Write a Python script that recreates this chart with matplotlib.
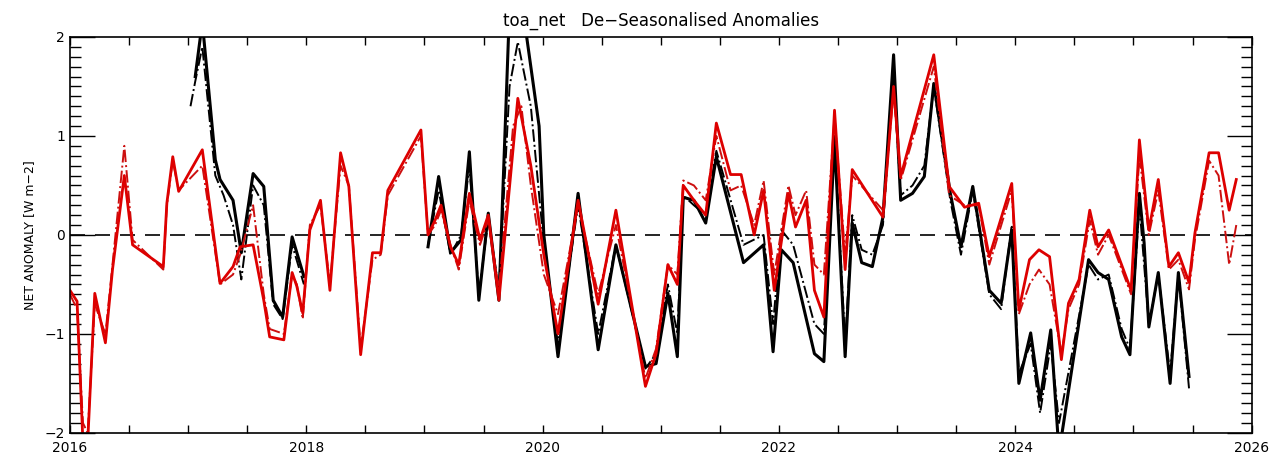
import numpy as np
import matplotlib
matplotlib.use('Agg')
import matplotlib.pyplot as plt

# red solid series (decimal year, anomaly W m-2)
red_t = [2016.00, 2016.06, 2016.11, 2016.15, 2016.21, 2016.30, 2016.36, 2016.46, 2016.53, 2016.79,
         2016.82, 2016.87, 2016.92, 2017.12, 2017.27, 2017.38, 2017.44, 2017.55, 2017.64, 2017.69,
         2017.81, 2017.88, 2017.92, 2017.97, 2018.03, 2018.12, 2018.20, 2018.29, 2018.36, 2018.46,
         2018.56, 2018.63, 2018.69, 2018.97, 2019.03, 2019.09, 2019.14, 2019.22, 2019.29, 2019.38,
         2019.47, 2019.54, 2019.63, 2019.79, 2019.90, 2020.01, 2020.13, 2020.30, 2020.47, 2020.62,
         2020.87, 2020.96, 2021.06, 2021.14, 2021.19, 2021.28, 2021.38, 2021.47, 2021.59, 2021.68,
         2021.79, 2021.87, 2021.96, 2022.08, 2022.14, 2022.23, 2022.30, 2022.38, 2022.47, 2022.56,
         2022.62, 2022.88, 2022.97, 2023.03, 2023.31, 2023.44, 2023.57, 2023.69, 2023.78, 2023.97,
         2024.03, 2024.12, 2024.20, 2024.29, 2024.39, 2024.45, 2024.54, 2024.63, 2024.70, 2024.79,
         2024.98, 2025.05, 2025.13, 2025.21, 2025.30, 2025.38, 2025.47, 2025.52, 2025.64, 2025.72,
         2025.81, 2025.87]
red_v = [-0.56, -0.67, -2.1, -2.1, -0.59, -1.09, -0.35, 0.6, -0.1, -0.32,
         0.32, 0.79, 0.44, 0.86, -0.49, -0.32, -0.12, -0.10, -0.66, -1.03,
         -1.06, -0.38, -0.52, -0.79, 0.05, 0.35, -0.56, 0.83, 0.49, -1.21,
         -0.18, -0.18, 0.45, 1.06, 0.0, 0.15, 0.3, -0.12, -0.3, 0.42,
         -0.05, 0.2, -0.66, 1.38, 0.7, -0.2, -1.0, 0.35, -0.7, 0.25,
         -1.53, -1.2, -0.3, -0.5, 0.5, 0.35, 0.2, 1.13, 0.61, 0.61,
         0.0, 0.45, -0.56, 0.42, 0.08, 0.35, -0.56, -0.83, 1.26, -0.35,
         0.66, 0.18, 1.5, 0.59, 1.82, 0.49, 0.28, 0.32, -0.22, 0.52,
         -0.76, -0.25, -0.15, -0.22, -1.26, -0.69, -0.45, 0.25, -0.12, 0.05,
         -0.56, 0.96, 0.05, 0.56, -0.32, -0.18, -0.48, 0.02, 0.83, 0.83,
         0.25, 0.56]

# red dash-dot series
redd_t = [2016.00, 2016.06, 2016.11, 2016.15, 2016.21, 2016.30, 2016.36, 2016.46, 2016.53, 2016.79,
          2016.82, 2016.87, 2016.92, 2017.12, 2017.27, 2017.38, 2017.44, 2017.55, 2017.64, 2017.69,
          2017.81, 2017.88, 2017.92, 2017.97, 2018.03, 2018.12, 2018.20, 2018.29, 2018.36, 2018.46,
          2018.56, 2018.63, 2018.69, 2018.97, 2019.03, 2019.09, 2019.14, 2019.22, 2019.29, 2019.38,
          2019.47, 2019.54, 2019.63, 2019.75, 2019.82, 2019.90, 2020.01, 2020.13, 2020.30, 2020.47,
          2020.62, 2020.87, 2020.96, 2021.06, 2021.14, 2021.19, 2021.28, 2021.38, 2021.47, 2021.59,
          2021.68, 2021.79, 2021.87, 2021.96, 2022.08, 2022.14, 2022.23, 2022.30, 2022.38, 2022.47,
          2022.56, 2022.62, 2022.88, 2022.97, 2023.03, 2023.31, 2023.44, 2023.57, 2023.69, 2023.78,
          2023.97, 2024.03, 2024.12, 2024.20, 2024.29, 2024.39, 2024.45, 2024.54, 2024.63, 2024.70,
          2024.79, 2024.98, 2025.05, 2025.13, 2025.21, 2025.30, 2025.38, 2025.47, 2025.52, 2025.64,
          2025.72, 2025.81, 2025.87]
redd_v = [-0.6, -0.75, -1.9, -2.0, -0.7, -1.0, -0.3, 0.9, -0.05, -0.35,
          0.3, 0.75, 0.45, 0.7, -0.5, -0.4, -0.2, 0.3, -0.6, -0.95,
          -1.0, -0.4, -0.5, -0.85, 0.1, 0.3, -0.5, 0.7, 0.5, -1.15,
          -0.25, -0.2, 0.4, 1.0, 0.0, 0.1, 0.25, -0.1, -0.35, 0.35,
          -0.1, 0.15, -0.55, 1.1, 1.3, 0.5, -0.4, -0.8, 0.3, -0.6,
          0.1, -1.45, -1.15, -0.3, -0.4, 0.55, 0.5, 0.35, 1.0, 0.45,
          0.5, 0.1, 0.55, -0.4, 0.5, 0.2, 0.45, -0.3, -0.4, 1.2,
          -0.2, 0.6, 0.25, 1.45, 0.55, 1.7, 0.4, 0.3, 0.3, -0.3,
          0.45, -0.8, -0.5, -0.35, -0.5, -1.2, -0.75, -0.5, 0.15, -0.2,
          0.0, -0.6, 0.8, 0.0, 0.45, -0.35, -0.25, -0.55, -0.05, 0.75,
          0.6, -0.3, 0.1]

# black solid series (gap in 2018)
blk_t = [2017.06, 2017.12, 2017.23, 2017.27, 2017.38, 2017.45, 2017.55, 2017.64, 2017.72, 2017.80,
         2017.88, 2017.98, 2018.5,
         2019.03, 2019.12, 2019.22, 2019.31, 2019.38, 2019.46, 2019.54, 2019.63, 2019.72, 2019.83,
         2019.97, 2020.01, 2020.13, 2020.30, 2020.47, 2020.62, 2020.87, 2020.96, 2021.06, 2021.14,
         2021.19, 2021.28, 2021.38, 2021.47, 2021.70, 2021.87, 2021.95, 2022.02, 2022.12, 2022.30,
         2022.38, 2022.47, 2022.56, 2022.62, 2022.70, 2022.79, 2022.88, 2022.97, 2023.03, 2023.13,
         2023.23, 2023.31, 2023.45, 2023.54, 2023.64, 2023.78, 2023.88, 2023.97, 2024.03, 2024.13,
         2024.21, 2024.30, 2024.37, 2024.62, 2024.70, 2024.79, 2024.90, 2024.97, 2025.05, 2025.09,
         2025.13, 2025.21, 2025.31, 2025.38, 2025.47]
blk_v = [1.6, 2.15, 0.76, 0.56, 0.35, -0.18, 0.62, 0.49, -0.66, -0.83,
         -0.02, -0.42, np.nan,
         -0.12, 0.59, -0.18, -0.05, 0.84, -0.66, 0.22, -0.66, 2.3, 2.3,
         1.1, 0.0, -1.23, 0.42, -1.16, -0.1, -1.33, -1.3, -0.59, -1.23,
         0.38, 0.35, 0.12, 0.79, -0.28, -0.1, -1.18, -0.15, -0.28, -1.2,
         -1.28, 0.96, -1.23, 0.12, -0.28, -0.32, 0.18, 1.82, 0.35, 0.42,
         0.59, 1.53, 0.42, -0.12, 0.49, -0.56, -0.69, 0.05, -1.5, -0.99,
         -1.67, -0.96, -2.2, -0.25, -0.38, -0.45, -1.03, -1.21, 0.42, -0.08,
         -0.93, -0.38, -1.5, -0.38, -1.43]

# black dash-dot series
blkd_t = [2017.02, 2017.06, 2017.12, 2017.23, 2017.30, 2017.38, 2017.45, 2017.55, 2017.64, 2017.72,
          2017.80, 2017.88, 2017.98, 2018.5,
          2019.03, 2019.12, 2019.22, 2019.31, 2019.38, 2019.46, 2019.54, 2019.63, 2019.72, 2019.79,
          2019.90, 2020.01, 2020.13, 2020.30, 2020.47, 2020.62, 2020.87, 2020.96, 2021.06, 2021.14,
          2021.19, 2021.28, 2021.38, 2021.47, 2021.70, 2021.87, 2021.95, 2022.02, 2022.12, 2022.30,
          2022.38, 2022.47, 2022.56, 2022.62, 2022.70, 2022.79, 2022.88, 2022.97, 2023.03, 2023.13,
          2023.23, 2023.31, 2023.45, 2023.54, 2023.64, 2023.78, 2023.88, 2023.97, 2024.03, 2024.13,
          2024.21, 2024.30, 2024.37, 2024.62, 2024.70, 2024.79, 2024.90, 2024.97, 2025.05, 2025.13,
          2025.21, 2025.31, 2025.38, 2025.47]
blkd_v = [1.3, 1.55, 1.9, 0.6, 0.4, 0.1, -0.45, 0.5, 0.3, -0.7,
          -0.85, -0.1, -0.5, np.nan,
          -0.1, 0.45, -0.2, 0.0, 0.7, -0.6, 0.15, -0.55, 1.5, 1.95,
          1.3, -0.1, -1.1, 0.3, -1.0, -0.1, -1.35, -1.2, -0.5, -1.0,
          0.4, 0.3, 0.2, 0.85, -0.1, 0.0, -0.9, 0.05, -0.1, -0.9,
          -1.0, 1.0, -1.1, 0.2, -0.15, -0.2, 0.1, 1.6, 0.4, 0.5,
          0.7, 1.5, 0.35, -0.2, 0.45, -0.6, -0.75, 0.1, -1.4, -1.1,
          -1.8, -1.1, -1.9, -0.3, -0.45, -0.4, -0.95, -1.15, 0.3, -0.9,
          -0.4, -1.4, -0.4, -1.55]

year_ticks = [2016, 2018, 2020, 2022, 2024, 2026]
anom_ticks = [-2, -1, 0, 1, 2]

fig = plt.figure(figsize=(12.72, 4.62), dpi=100)
ax = fig.add_axes([0.055, 0.063, 0.929, 0.857])

ax.axhline(0, color='black', lw=1.2, linestyle=(0, (9, 6)))

ax.plot(blk_t, blk_v, color='black', lw=2.2)
ax.plot(blkd_t, blkd_v, color='black', lw=1.4, linestyle='-.')
ax.plot(redd_t, redd_v, color='#cc1010', lw=1.4, linestyle='-.')
ax.plot(red_t, red_v, color='#dd0000', lw=2.0)

ax.set_xlim(2016, 2026)
ax.set_ylim(-2, 2)
ax.set_xticks(year_ticks)
ax.set_xticks(np.arange(2016, 2026.01, 0.5), minor=True)
ax.set_yticks(anom_ticks)
ax.set_yticks(np.arange(-2, 2.01, 0.1), minor=True)
ax.set_yticklabels(['\u22122', '\u22121', '0', '1', '2'])

ax.tick_params(axis='x', which='both', direction='in', top=True, bottom=True,
               length=6, width=1, labelsize=10, pad=6)
ax.tick_params(axis='y', which='major', direction='in', left=True, right=True,
               length=18, width=1, labelsize=10)
ax.tick_params(axis='y', which='minor', direction='in', left=True, right=True,
               length=8, width=1)
for s in ax.spines.values():
    s.set_linewidth(1.2)

ax.set_ylabel('NET ANOMALY [W m\u22122]', fontsize=9, labelpad=6)
ax.set_title('toa_net   De\u2212Seasonalised Anomalies', fontsize=12, pad=8)

plt.savefig('out.png', dpi=100)
